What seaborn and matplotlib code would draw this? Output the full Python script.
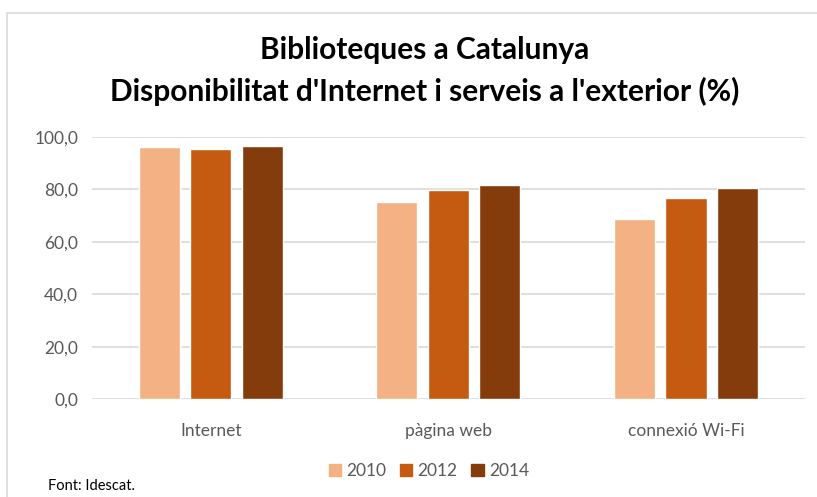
import matplotlib
matplotlib.use("Agg")
import matplotlib.pyplot as plt
import matplotlib.patches as mpatches
import pandas as pd
import seaborn as sns

# Dades (llegides del gràfic original)
categories = ["Internet", "pàgina web", "connexió Wi-Fi"]
years = ["2010", "2012", "2014"]
values_2010 = [96.1, 75.3, 68.6]
values_2012 = [95.4, 79.9, 76.7]
values_2014 = [96.6, 81.7, 80.6]
colors = ["#F4B183", "#C55A11", "#843C0C"]

rows = []
for year, vals in zip(years, [values_2010, values_2012, values_2014]):
    for cat, v in zip(categories, vals):
        rows.append({"Categoria": cat, "Any": year, "Valor": v})
df = pd.DataFrame(rows)

sns.set_style("white")
plt.rcParams["font.family"] = ["Lato", "DejaVu Sans"]

fig = plt.figure(figsize=(8.17, 4.97), dpi=100)
ax = fig.add_axes([0.1126, 0.197, 0.8724, 0.5273])

sns.barplot(
    data=df, x="Categoria", y="Valor", hue="Any",
    order=categories, hue_order=years,
    palette=colors, saturation=1, width=0.65, gap=0.2,
    errorbar=None, ax=ax, legend=False,
)

ax.set_ylim(0, 100)
ax.set_xlim(-0.5, len(categories) - 0.5)
ax.set_yticks([0, 20, 40, 60, 80, 100])
ax.set_yticklabels([f"{t:.1f}".replace(".", ",") for t in [0, 20, 40, 60, 80, 100]])
ax.yaxis.grid(True, color="#D9D9D9", linewidth=1.2)
ax.set_axisbelow(True)
for s in ax.spines.values():
    s.set_visible(False)
ax.tick_params(axis="both", length=0, labelsize=12.5, colors="#595959", pad=10)
ax.tick_params(axis="x", pad=17)
ax.set_xlabel("")
ax.set_ylabel("")

# Títol
fig.text(0.52, 0.90, "Biblioteques a Catalunya", ha="center", va="center",
         fontsize=21.5, fontweight="bold", color="black")
fig.text(0.52, 0.815, "Disponibilitat d'Internet i serveis a l'exterior (%)",
         ha="center", va="center", fontsize=21.5, fontweight="bold", color="black")

# Llegenda
handles = [mpatches.Patch(color=c, label=y) for c, y in zip(colors, years)]
fig.legend(handles=handles, loc="center", bbox_to_anchor=(0.525, 0.052), ncol=3,
           frameon=False, fontsize=12.5, handlelength=0.7, handleheight=0.7,
           handletextpad=0.3, columnspacing=0.8, labelcolor="#595959")

fig.text(0.059, 0.022, "Font: Idescat.", ha="left", va="center", fontsize=10.5, color="black")

# Marc del gràfic
frame = mpatches.Rectangle((0.009, -0.02), 1.0, 0.994, transform=fig.transFigure,
                           fill=False, edgecolor="#D9D9D9", linewidth=1.2)
fig.patches.append(frame)

fig.savefig("out.png", dpi=100, facecolor="white")
